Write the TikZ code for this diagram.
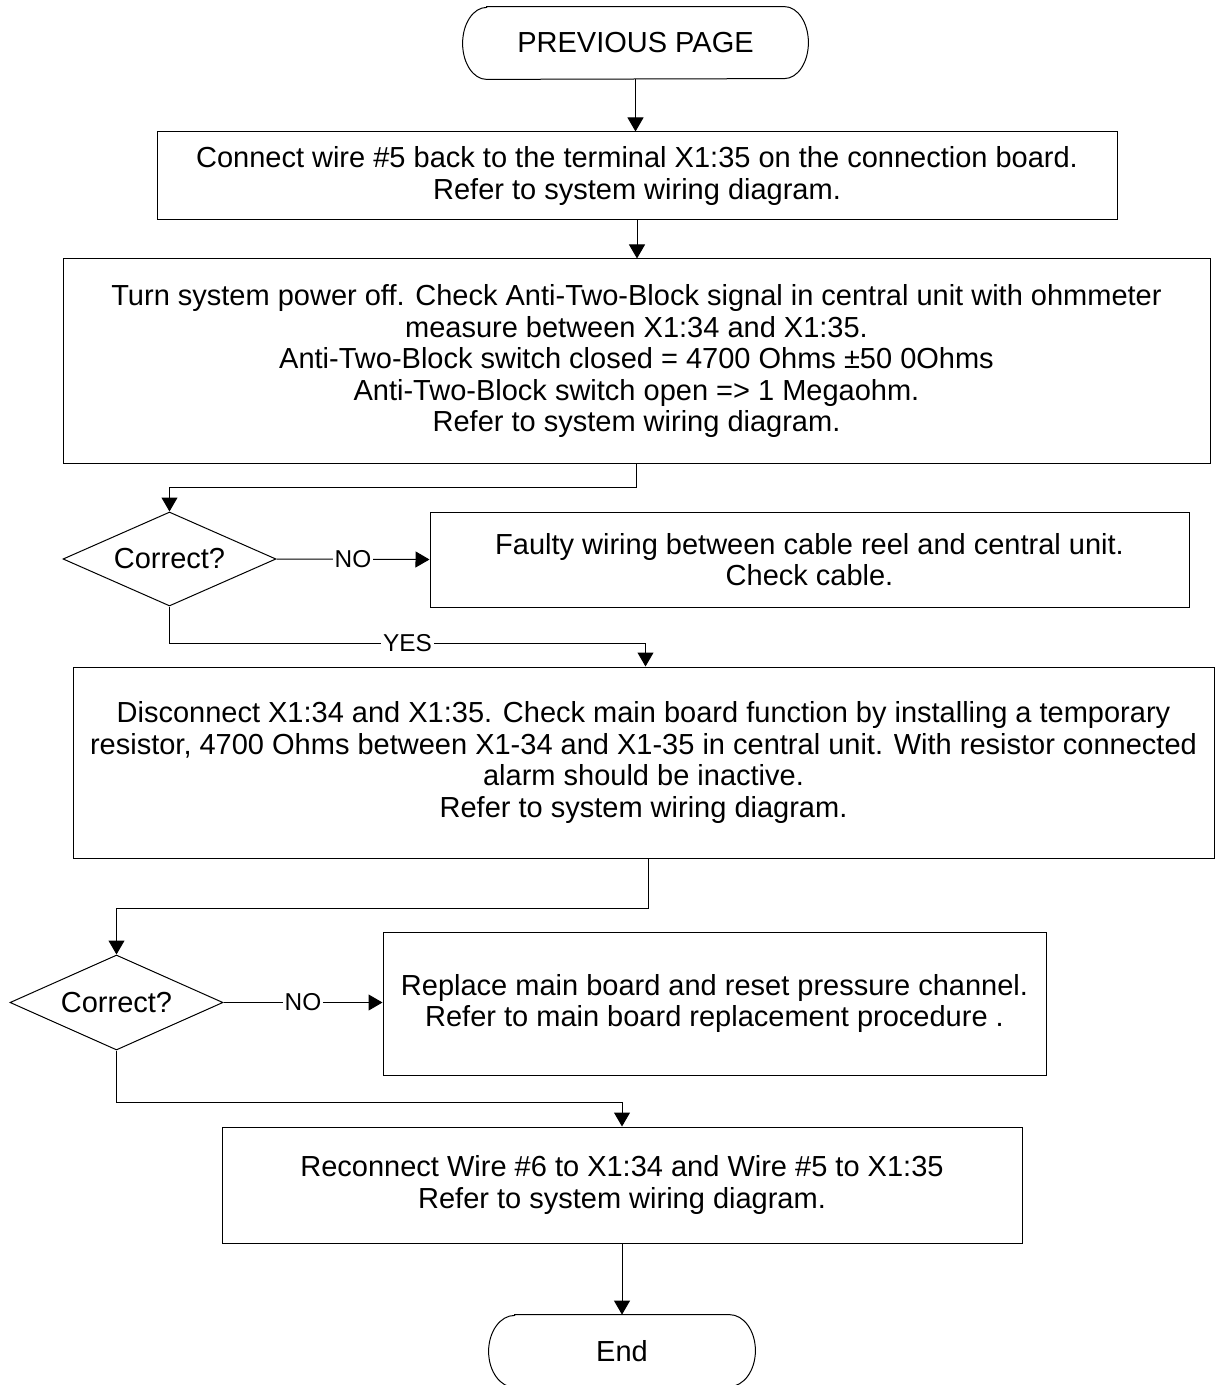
\documentclass[tikz,border=0pt]{standalone}
\usepackage{fontspec}
\setmainfont{Liberation Sans}
\usetikzlibrary{shapes.geometric,arrows.meta}
\begin{document}
\begin{tikzpicture}[x=0.5pt,y=-0.5pt,
  every node/.style={font=\fontsize{14.5}{15.75}\selectfont},
  box/.style={draw,rectangle,line width=0.5pt,align=center,inner sep=0pt},
  term/.style={rectangle,inner sep=0pt},
  termline/.style={line width=0.5pt},
  dec/.style={draw,diamond,aspect=2.27,line width=0.5pt,inner sep=0pt},
  conn/.style={line width=0.5pt,-{Triangle[length=7pt,width=8pt]}},
  lbl/.style={fill=white,inner sep=1pt,font=\fontsize{12.2}{13}\selectfont}]
\useasboundingbox (0,0) rectangle (1215,1385);
\clip (0,0) rectangle (1215,1385);
\node[term,minimum width=172.5pt,minimum height=36pt] (top) at (635.5,43) {PREVIOUS PAGE};
\draw[termline] ([xshift=12pt]top.north west) -- ([xshift=-12pt]top.north east)
  arc[start angle=90,end angle=-90,x radius=12pt,y radius=18pt]
  -- ([xshift=12pt]top.south west)
  arc[start angle=270,end angle=90,x radius=12pt,y radius=18pt] -- cycle;
\node[box,minimum width=480pt,minimum height=44pt] (b1) at (637,176)
 {Connect wire \#5 back to the terminal X1:35 on the connection board.\\Refer to system wiring diagram.};
\node[box,minimum width=573.5pt,minimum height=102pt] (b2) at (636.5,361)
 {Turn system power off. Check Anti-Two-Block signal in central unit with ohmmeter\\measure between X1:34 and X1:35.\\Anti-Two-Block switch closed = 4700 Ohms ±50 0Ohms\\Anti-Two-Block switch open => 1 Megaohm.\\Refer to system wiring diagram.};
\node[dec,minimum width=106.5pt,minimum height=47pt] (d1) at (169.5,559) {Correct?};
\node[box,minimum width=379.5pt,minimum height=47.5pt] (b3) at (809.5,559.5)
 {Faulty wiring between cable reel and central unit.\\Check cable.};
\node[box,minimum width=570.5pt,minimum height=95.5pt] (b4) at (643.5,762.5)
 {Disconnect X1:34 and X1:35. Check main board function by installing a temporary\\resistor, 4700 Ohms between X1-34 and X1-35 in central unit. With resistor connected\\alarm should be inactive.\\Refer to system wiring diagram.};
\node[dec,minimum width=106.5pt,minimum height=47.5pt] (d2) at (116.5,1002.5) {Correct?};
\node[box,minimum width=331.5pt,minimum height=71.5pt] (b5) at (714.5,1003.5)
 {Replace main board and reset pressure channel.\\Refer to main board replacement procedure .};
\node[box,minimum width=400pt,minimum height=58pt] (b6) at (622,1185)
 {Reconnect Wire \#6 to X1:34 and Wire \#5 to X1:35\\Refer to system wiring diagram.};
\node[term,minimum width=133pt,minimum height=36pt] (end) at (622,1351) {End};
\draw[termline] ([xshift=13pt]end.north west) -- ([xshift=-13pt]end.north east)
  arc[start angle=90,end angle=-90,x radius=13pt,y radius=18pt]
  -- ([xshift=13pt]end.south west)
  arc[start angle=270,end angle=90,x radius=13pt,y radius=18pt] -- cycle;

\draw[conn] (top.south) -- (top.south |- b1.north);
\draw[conn] (b1.south) -- (b1.south |- b2.north);
\draw[conn] (b2.south) -- ++(0,24) -| (d1.north);
\draw[conn] (d1.east) -- node[lbl]{NO} (b3.west);
\draw[conn] (d1.south) -- ++(0,37) -| node[lbl,pos=0.25]{YES} ([xshift=1pt]b4.north);
\draw[conn] ([xshift=2.25pt]b4.south) -- ++(0,50) -| (d2.north);
\draw[conn] (d2.east) -- node[lbl]{NO} (d2.east -| b5.west);
\draw[conn] (d2.south) -- ++(0,52) -| (b6.north);
\draw[conn] (b6.south) -- (end.north);
\end{tikzpicture}
\end{document}
